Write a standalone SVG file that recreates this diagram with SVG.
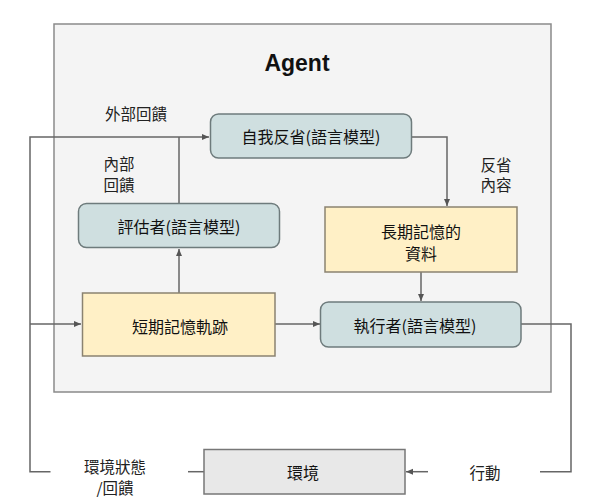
<svg xmlns="http://www.w3.org/2000/svg" width="596" height="500" viewBox="0 0 596 500">
<style>
.t{font-family:"Noto Sans CJK TC","Noto Sans CJK SC",sans-serif;font-size:16px;fill:#111;text-anchor:middle;dominant-baseline:central}
.lbl{font-family:"Noto Sans CJK TC","Noto Sans CJK SC",sans-serif;font-size:15.5px;fill:#222;text-anchor:middle;dominant-baseline:central}
.blue{fill:#cfdfe0;stroke:#6e7b7c;stroke-width:1.5}
.yel{fill:#fff0c6;stroke:#8a8270;stroke-width:1.5}
.conn{fill:none;stroke:#666;stroke-width:1.5}
</style>
<defs>
<marker id="ah" markerWidth="8" markerHeight="8" refX="7" refY="4" orient="auto" markerUnits="userSpaceOnUse">
<path d="M0,1 L7,4 L0,7 Z" fill="#555"/>
</marker>
</defs>
<rect width="596" height="500" fill="#fff"/>
<g id="agent">
<rect x="54" y="24" width="497" height="368" fill="#f4f4f4" stroke="#8a8a8a" stroke-width="1.5"/>
<text x="297" y="63" font-family="Liberation Sans,Arial,sans-serif" font-size="23" font-weight="bold" text-anchor="middle" dominant-baseline="central" fill="#111">Agent</text>
</g>
<g id="connectors">
<path class="conn" d="M50.5,471.7 L30,471.7 L30,137 L209,137" marker-end="url(#ah)"/>
<path class="conn" d="M30,324 L81,324" marker-end="url(#ah)"/>
<path class="conn" d="M179,204 L179,137"/>
<path class="conn" d="M179,293 L179,249" marker-end="url(#ah)"/>
<path class="conn" d="M411,137 L447,137 L447,206" marker-end="url(#ah)"/>
<path class="conn" d="M421,272 L421,301" marker-end="url(#ah)"/>
<path class="conn" d="M275,324 L320,324" marker-end="url(#ah)"/>
<path class="conn" d="M521,324 L571,324 L571,471.7 L540,471.7"/>
<path class="conn" d="M428,471.7 L406,471.7" marker-end="url(#ah)"/>
<path class="conn" d="M188,471.7 L204,471.7"/>
</g>
<g id="lbl-ext"><text class="lbl" x="136" y="113">外部回饋</text></g>
<g id="lbl-int"><text class="lbl" x="119" y="163">內部</text><text class="lbl" x="119" y="184">回饋</text></g>
<g id="lbl-refl"><text class="lbl" x="496" y="164">反省</text><text class="lbl" x="496" y="184">內容</text></g>
<g id="lbl-act"><text class="lbl" x="485" y="472">行動</text></g>
<g id="lbl-env"><text class="lbl" x="115" y="466">環境狀態</text><text class="lbl" x="115" y="487">/回饋</text></g>
<g id="self-reflection">
<rect class="blue" x="210.5" y="114" width="201" height="44" rx="8"/>
<text class="t" x="311" y="136">自我反省(語言模型)</text>
</g>
<g id="evaluator">
<rect class="blue" x="78.5" y="203.5" width="201" height="44" rx="8"/>
<text class="t" x="179" y="226">評估者(語言模型)</text>
</g>
<g id="long-term">
<rect class="yel" x="325" y="207" width="192" height="65"/>
<text class="t" x="421" y="231">長期記憶的</text>
<text class="t" x="421" y="253">資料</text>
</g>
<g id="short-term">
<rect class="yel" x="82.5" y="293" width="192.5" height="63"/>
<text class="t" x="180" y="326">短期記憶軌跡</text>
</g>
<g id="actor">
<rect class="blue" x="320.5" y="302" width="200.5" height="45" rx="8"/>
<text class="t" x="415" y="325">執行者(語言模型)</text>
</g>
<g id="environment">
<rect x="204" y="449.5" width="201" height="44.5" fill="#e8e8e8" stroke="#777" stroke-width="1.5"/>
<text class="t" x="303" y="472">環境</text>
</g>
</svg>
